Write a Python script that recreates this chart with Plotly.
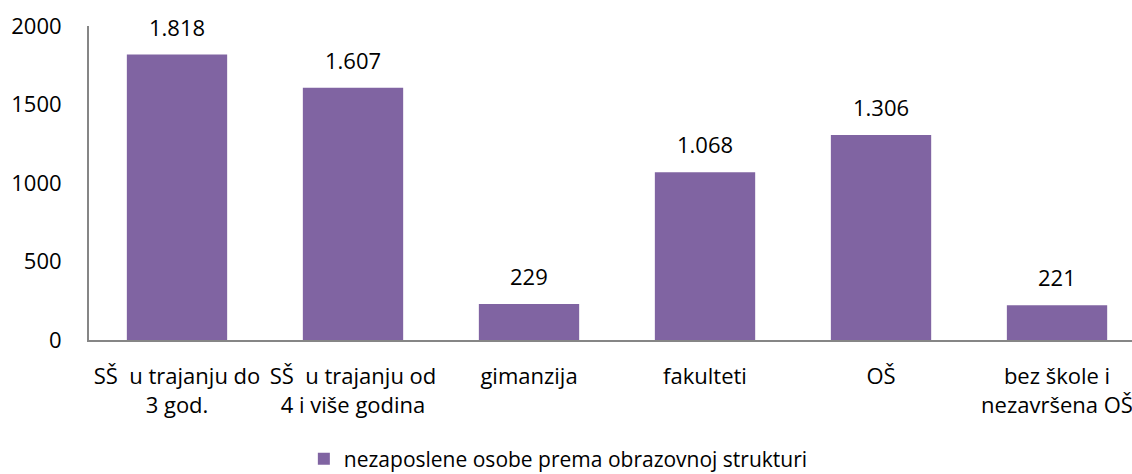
import plotly.graph_objects as go

categories = [
    "SŠ\u00a0 u trajanju do<br>3 god.",
    "SŠ\u00a0 u trajanju od<br>4 i više godina",
    "gimanzija",
    "fakulteti",
    "OŠ",
    "bez škole i<br>nezavršena OŠ",
]
values = [1818, 1607, 229, 1068, 1306, 221]
series_name = "nezaposlene osobe prema obrazovnoj strukturi"
y_ticks = [0, 500, 1000, 1500, 2000]

FONT = "Open Sans"
BAR = "#8064A2"

fig = go.Figure()
fig.add_trace(go.Bar(
    x=list(range(len(categories))),
    y=values,
    name=series_name,
    marker=dict(color=BAR, line=dict(width=0)),
    showlegend=True,
))

for i, v in enumerate(values):
    fig.add_annotation(
        x=i, y=v, text=f"{v:,}".replace(",", "."), showarrow=False,
        yshift=28, font=dict(family=FONT, size=22, color="#000000"),
        xref="x", yref="y",
    )

fig.update_layout(
    width=1132, height=474,
    margin=dict(l=89, r=0, t=26, b=134, autoexpand=False),
    paper_bgcolor="white", plot_bgcolor="white",
    bargap=0.43,
    showlegend=True,
    font=dict(family=FONT, size=22, color="#000000"),
    legend=dict(orientation="h", x=0.45, xanchor="center", y=-0.379, yanchor="middle",
                font=dict(family=FONT, size=21, color="#000000"),
                itemwidth=30),
    xaxis=dict(
        tickmode="array", tickvals=list(range(len(categories))), ticktext=categories,
        range=[-0.5, 5.426], showgrid=False, zeroline=False,
        showline=True, linecolor="#868686", linewidth=2, ticks="",
        ticklabelstandoff=16, automargin=False, tickangle=0,
        ticklabeloverflow="allow",
    ),
    yaxis=dict(
        range=[0, 2000], tickvals=y_ticks, ticktext=[str(t) for t in y_ticks],
        showgrid=False, zeroline=False, showline=True, linecolor="#868686",
        linewidth=2, ticks="", ticklabelstandoff=21, automargin=False,
    ),
)

fig.write_html("out.html", post_script="document.body.style.margin='0';",
               config={"displayModeBar": False})
